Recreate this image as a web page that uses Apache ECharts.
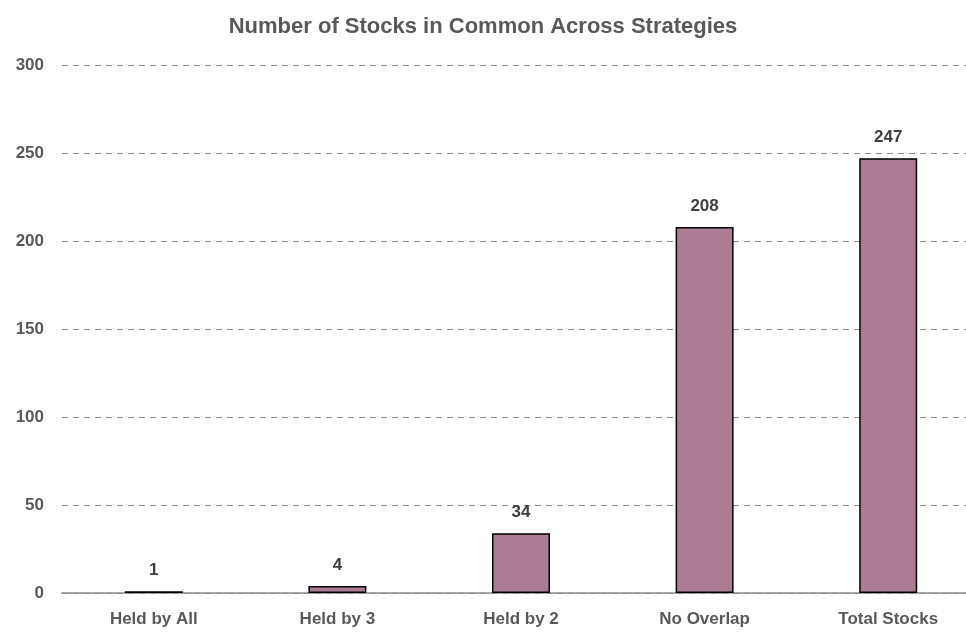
<!DOCTYPE html>
<html>
<head>
<meta charset="utf-8">
<script src="https://cdn.jsdelivr.net/npm/echarts@6/dist/echarts.min.js"></script>
<style>
  html, body { margin: 0; padding: 0; background: #fff; overflow: hidden; }
  #chart { width: 966px; height: 635px; }
</style>
</head>
<body>
<div id="chart"></div>
<script>
const categories = ['Held by All', 'Held by 3', 'Held by 2', 'No Overlap', 'Total Stocks']
const stockCounts = [1, 4, 34, 208, 247]

const FONT = '"Liberation Sans Narrow", "Arial Narrow", "Liberation Sans", sans-serif'

const chart = echarts.init(document.getElementById('chart'))
const option = {
  backgroundColor: '#ffffff',
  animation: false,
  title: {
    text: 'Number of Stocks in Common Across Strategies',
    left: 'center',
    top: 11,
    textStyle: {
      fontFamily: FONT,
      fontSize: 22,
      fontWeight: 'bold',
      color: '#595959',
    },
  },
  grid: {
    left: 62,
    width: 918,
    top: 65,
    bottom: 42,
    containLabel: false,
    outerBoundsMode: 'none',
  },
  xAxis: {
    type: 'category',
    data: categories,
    axisTick: { show: false },
    axisLine: { lineStyle: { color: '#8c8c8c', width: 1.5 } },
    axisLabel: {
      margin: 18,
      fontFamily: FONT,
      fontSize: 17,
      fontWeight: 'bold',
      color: '#595959',
    },
  },
  yAxis: {
    type: 'value',
    min: 0,
    max: 300,
    interval: 50,
    axisLine: { show: false },
    axisTick: { show: false },
    axisLabel: {
      margin: 18,
      fontFamily: FONT,
      fontSize: 17,
      fontWeight: 'bold',
      color: '#595959',
    },
    splitLine: {
      lineStyle: { color: '#8c8c8c', type: [6, 5], width: 1.2 },
    },
  },
  series: [
    {
      type: 'bar',
      data: stockCounts,
      barWidth: 58,
      itemStyle: {
        color: '#ab7b94',
        borderColor: '#000000',
        borderWidth: 1.5,
      },
      label: {
        show: true,
        position: 'top',
        distance: 12,
        fontFamily: FONT,
        fontSize: 17,
        fontWeight: 'bold',
        color: '#404040',
      },
    },
  ],
}
chart.setOption(option)
</script>
</body>
</html>
